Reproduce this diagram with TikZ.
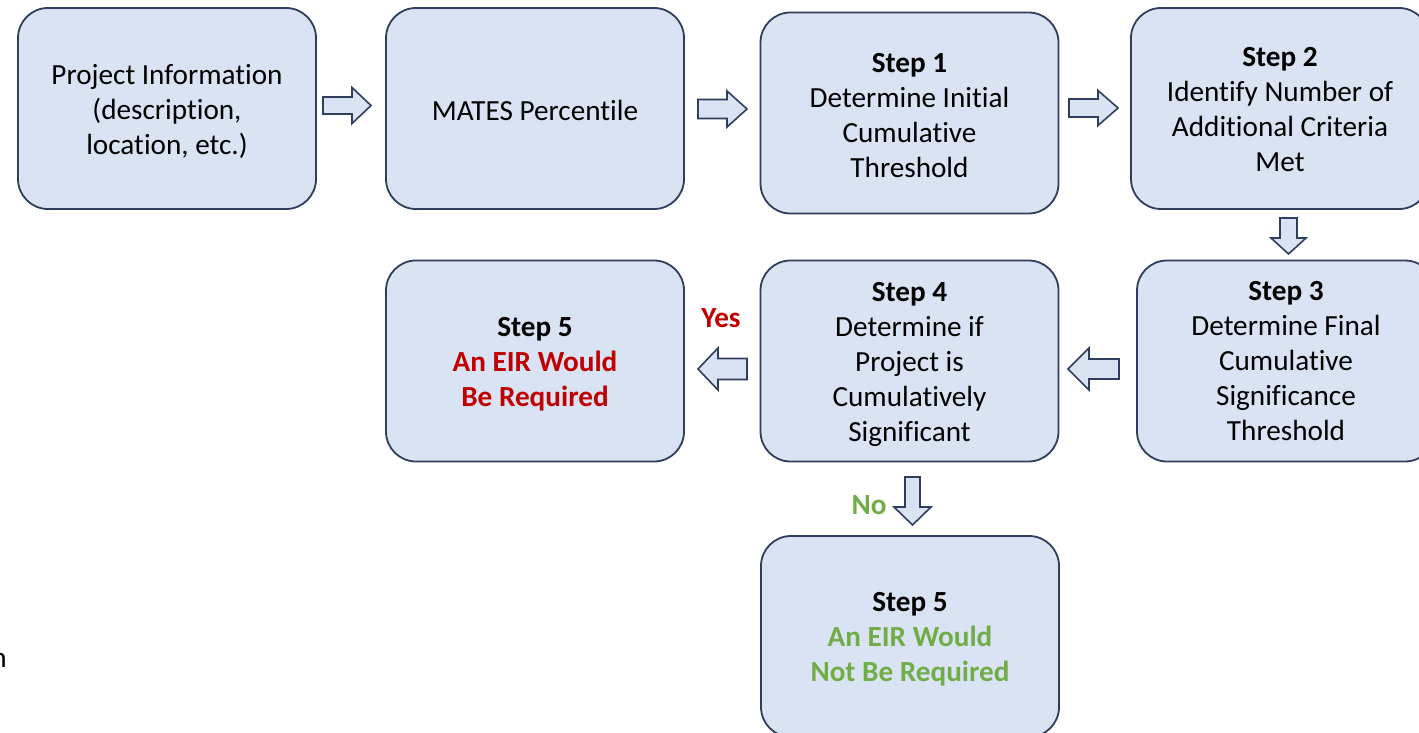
\documentclass[tikz,border=0pt]{standalone}
\usepackage{fontspec}
\setmainfont{Carlito}[Ligatures=NoCommon]
\definecolor{boxfill}{HTML}{DAE3F3}
\definecolor{boxline}{HTML}{2F3E5C}
\definecolor{yesred}{HTML}{C00000}
\definecolor{nogreen}{HTML}{70AD47}
\newcommand\bodyfont{\fontsize{29.2}{35}\selectfont}
\tikzset{
  x=1pt, y=-1pt,
  stepbox/.style={draw=boxline, fill=boxfill, line width=1.8pt,
    rounded corners=30pt, minimum width=298pt, minimum height=201pt,
    inner sep=0pt},
  steptext/.style={inner sep=0pt, align=center, font=\bodyfont},
  arrowline/.style={draw=boxline, fill=boxfill, line width=1.6pt, line join=miter},
  % hollow block arrow: length, head length, shaft half-width, head half-width
  pics/barrow/.style n args={4}{code={
    \draw[arrowline] (-#1/2,-#3) -- (#1/2-#2,-#3) -- (#1/2-#2,-#4) -- (#1/2,0)
      -- (#1/2-#2,#4) -- (#1/2-#2,#3) -- (-#1/2,#3) -- cycle;
  }},
  answer/.style={font=\bodyfont\bfseries, inner sep=0pt}
}
\begin{document}
\begin{tikzpicture}
\clip (0,0) rectangle (1419,733);
\fill[white] (0,0) rectangle (1419,733);

% process boxes
\node[stepbox] (info)  at (167,108.5) {};
\node[stepbox] (mates) at (535,108.5) {};
\node[stepbox] (s1)    at (909.5,113) {};
\node[stepbox] (s2)    at (1280,108.5) {};
\node[stepbox] (s3)    at (1286,361) {};
\node[stepbox] (s4)    at (909.5,361) {};
\node[stepbox] (s5yes) at (535,361) {};
\node[stepbox] (s5no)  at (910,636.5) {};

% box texts, set a little below each box centre
\node[steptext] (tinfo)  at ([yshift=-3pt]info.center)  {Project Information\\(description,\\location, etc.)};
\node[steptext] (tmates) at ([yshift=-1.5pt]mates.center) {MATES Percentile};
\node[steptext] (ts1)    at ([yshift=-2.5pt]s1.center)  {\textbf{Step 1}\\Determine Initial\\Cumulative\\Threshold};
\node[steptext] (ts2)    at ([yshift=-1pt]s2.center)    {\textbf{Step 2}\\Identify Number of\\Additional Criteria\\Met};
\node[steptext] (ts3)    at ([yshift=-0.5pt]s3.center)  {\textbf{Step 3}\\Determine Final\\Cumulative\\Significance\\Threshold};
\node[steptext] (ts4)    at ([yshift=-3pt]s4.center)    {\textbf{Step 4}\\Determine if\\Project is\\Cumulatively\\Significant};
\node[steptext] (ts5yes) at ([yshift=-3pt]s5yes.center) {\textbf{Step 5}\\\textcolor{yesred}{\textbf{An EIR Would}}\\\textcolor{yesred}{\textbf{Be Required}}};
\node[steptext] (ts5no)  at ([yshift=-3pt]s5no.center)  {\textbf{Step 5}\\\textcolor{nogreen}{\textbf{An EIR Would}}\\\textcolor{nogreen}{\textbf{Not Be Required}}};

% block arrows between the steps
\pic at (347,105.5)   {barrow={48}{19}{8.5}{18}};
\pic at (722.5,109)   {barrow={49}{20}{9.5}{18}};
\pic at (1093.5,108)  {barrow={49}{20}{9}{17.5}};
\pic[rotate=-90] at (1288.5,236) {barrow={36}{16}{8.5}{17.5}};
\pic[rotate=180] at (1093.5,369) {barrow={51}{21}{10}{21}};
\pic[rotate=180] at (722.5,369)  {barrow={49}{20}{10.5}{21}};
\pic[rotate=-90] at (912.5,501)  {barrow={48}{18}{7.5}{18.5}};

% decision labels
\node[answer, text=yesred]  (yes) at (721,318) {Yes};
\node[answer, text=nogreen] (no)  at (869,505) {No};

% text running in from the left margin
\node[anchor=base east, inner sep=0pt, font=\bodyfont] (edge) at (7,667) {n};
\end{tikzpicture}
\end{document}
